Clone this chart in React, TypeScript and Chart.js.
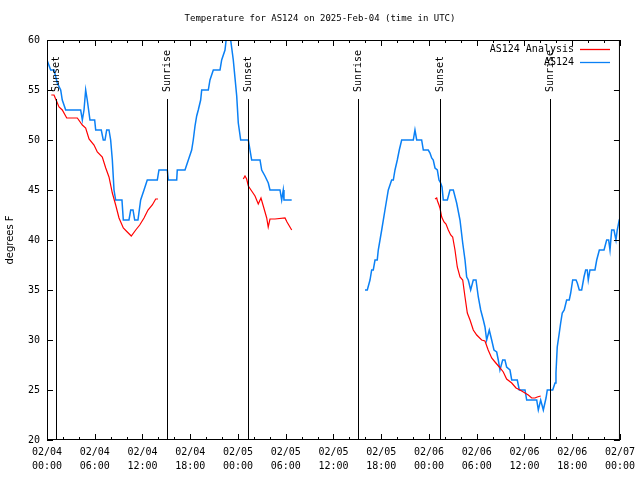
import React, { useEffect, useRef } from "react";
import { Chart, registerables } from "chart.js";

Chart.register(...registerables);

const TITLE = "Temperature for AS124 on 2025-Feb-04 (time in UTC)";
const Y_LABEL = "degrees F";
const X_TICK_LABELS = [
  ["02/04", "00:00"], ["02/04", "06:00"], ["02/04", "12:00"], ["02/04", "18:00"],
  ["02/05", "00:00"], ["02/05", "06:00"], ["02/05", "12:00"], ["02/05", "18:00"],
  ["02/06", "00:00"], ["02/06", "06:00"], ["02/06", "12:00"], ["02/06", "18:00"],
  ["02/07", "00:00"],
];

// hours since 02/04 00:00 UTC
const SUN_HOURS = [1.13, 15.08, 25.26, 39.08, 49.38, 63.2];
const SUN_LABELS = ["Sunset", "Sunrise", "Sunset", "Sunrise", "Sunset", "Sunrise"];

const OBS_LABEL = "AS124";
const OBS_HOURS = [
  0, 0.46, 0.88, 1.29, 1.72, 1.92, 2.35, 4.23, 4.44, 4.65, 4.86, 5.06, 5.4, 5.99, 6.12, 6.82,
  7.07, 7.29, 7.5, 7.79, 8.0, 8.21, 8.42, 8.63, 9.42, 9.59, 10.3, 10.52, 10.81, 11.02, 11.43,
  11.77, 12.19, 12.6, 13.86, 14.07, 15.12, 15.24, 16.3, 16.37, 17.34, 17.76, 18.18, 18.38,
  18.6, 18.81, 19.01, 19.31, 19.44, 20.27, 20.48, 20.9, 21.74, 21.95, 22.37, 22.58, 23.0,
  23.41, 23.84, 24.04, 24.34, 25.3, 25.72, 26.77, 26.98, 27.39, 27.81, 28.02, 29.28, 29.49,
  29.69, 29.78, 30.75,
  35,
  39.96, 40.25, 40.59, 40.8, 41.0, 41.22, 41.5, 41.63, 42.06, 42.47, 42.89, 43.31, 43.52,
  43.73, 44.02, 44.27, 44.57, 46.03, 46.24, 46.46, 47.08, 47.29, 47.91, 48.13, 48.34, 48.54,
  48.76, 49.05, 49.26, 49.47, 49.64, 49.8, 50.31, 50.64, 51.06, 51.48, 51.9, 52.24, 52.53,
  52.74, 52.94, 53.24, 53.57, 53.91, 54.2, 54.5, 54.83, 55.04, 55.25, 55.58, 55.88, 56.17,
  56.51, 56.71, 56.92, 57.26, 57.55, 57.76, 58.18, 58.4, 59.1, 59.35, 60.07, 60.28, 61.54,
  61.74, 62.04, 62.37, 62.71, 62.87, 63.55, 63.84, 63.96, 64.12, 64.34, 64.55, 64.75, 65.0,
  65.3, 65.63, 65.81, 66.06, 66.48, 66.64, 66.89, 67.19, 67.48, 67.69, 67.89, 68.02, 68.23,
  68.86, 69.08, 69.41, 70.0, 70.33, 70.58, 70.75, 70.96, 71.25, 71.5, 71.66, 71.91, 72.0,
];
const OBS_TEMPS = [
  58, 57, 57, 55.7, 55, 54, 53, 53, 52, 53, 55, 54, 52, 52, 51, 51,
  50, 50, 51, 51, 50, 48, 45, 44, 44, 42, 42, 43, 43, 42, 42,
  44, 45, 46, 46, 47, 47, 46, 46, 47, 47, 48, 49, 50,
  51.4, 52.4, 53, 54, 55, 55, 56, 57, 57, 58, 59, 60.5, 60.5,
  58, 54.4, 51.7, 50, 50, 48, 48, 47, 46.4, 45.7, 45, 45, 44,
  45, 44, 44,
  null,
  35, 35, 36, 37, 37, 38, 38, 39, 41, 43, 45, 46, 46,
  47, 48, 49, 50, 50, 51, 50, 50, 49, 49, 48.7, 48.2, 48,
  47.2, 47, 46, 45.7, 45.3, 44, 44, 45, 45, 43.7, 42, 39.7, 38,
  36.3, 36, 35, 36, 36, 34.3, 33, 32, 31.3, 30, 31, 30, 29,
  28.8, 28, 27, 28, 28, 27.3, 27, 26, 26, 25, 25, 24, 24,
  23, 24, 23, 24.2, 25, 25, 25.7, 26.7, 29.3, 30.5, 31.7, 32.7, 33,
  34, 34, 34.7, 36, 36, 35.7, 35, 35, 36.3, 37, 37, 36, 37,
  37, 38, 39, 39, 40, 40, 39, 41, 41, 40, 41, 42, 42.2,
];

const ANA_LABEL = "AS124 Analysis";
const ANA_HOURS = [
  0.54, 0.88, 1.09, 1.51, 1.92, 2.48, 3.81, 4.44, 4.86, 5.28, 5.91, 6.32, 6.95, 7.38, 7.79,
  8.21, 8.63, 9.05, 9.59, 10.09, 10.59, 11.15, 11.65, 12.19, 12.69, 13.23, 13.66, 13.95,
  19,
  24.67, 24.88, 25.09, 25.3, 25.72, 26.14, 26.55, 26.89, 27.18, 27.61, 27.8, 28.02, 28.65,
  29.91, 30.16, 30.75,
  40,
  48.76, 48.97, 49.07, 49.26, 49.38, 49.6, 49.89, 50.14, 50.43, 50.73, 50.98, 51.27, 51.56,
  51.9, 52.24, 52.53, 52.82, 53.16, 53.57, 54.0, 54.62, 55.04, 55.44, 55.88, 56.3, 56.84,
  57.34, 57.76, 58.4, 58.94, 59.44, 60.07, 60.48, 60.91, 61.32, 61.61, 62.04,
];
const ANA_TEMPS = [
  54.5, 54.5, 54.1, 53.3, 53, 52.2, 52.2, 51.5, 51.2, 50.1, 49.5, 48.8, 48.3, 47.2, 46.3,
  44.7, 43.5, 42.2, 41.2, 40.8, 40.4, 41, 41.5, 42.2, 43, 43.5, 44.1, 44.1,
  null,
  46.1, 46.4, 46.1, 45.4, 44.9, 44.4, 43.6, 44.2, 43.4, 42.2, 41.3, 42.1, 42.1,
  42.2, 41.8, 41.0,
  null,
  44.1, 44.2, 43.9, 43.5, 43.2, 42.3, 41.8, 41.6, 41, 40.5, 40.3, 39, 37.3,
  36.3, 36, 34.3, 32.7, 32, 31, 30.5, 30, 29.9, 29, 28.2, 27.8, 27.3,
  26.8, 26.1, 25.7, 25.2, 25, 24.7, 24.5, 24.2, 24.2, 24.3, 24.4,
];

const OBS_COLOR = "#0a80f5";
const ANA_COLOR = "#ff0000";
const MONO = "'DejaVu Sans Mono', monospace";

const overlayPlugin = {
  id: "gnuplotOverlay",
  afterDatasetsDraw(chart: any) {
    const { ctx, chartArea } = chart;
    const { left, right, top, bottom } = chartArea;
    const xs = chart.scales.x;
    const ys = chart.scales.y;
    ctx.save();
    ctx.strokeStyle = "#000";
    ctx.lineWidth = 1;

    // sunrise / sunset markers
    SUN_HOURS.forEach((h, i) => {
      const px = Math.round(xs.getPixelForValue(h)) + 0.5;
      ctx.beginPath();
      ctx.moveTo(px, 99);
      ctx.lineTo(px, bottom);
      ctx.stroke();
      ctx.save();
      ctx.translate(px, 92);
      ctx.rotate(-Math.PI / 2);
      ctx.fillStyle = "#000";
      ctx.font = `10px ${MONO}`;
      ctx.textAlign = "left";
      ctx.textBaseline = "middle";
      ctx.fillText(SUN_LABELS[i], 0, 0);
      ctx.restore();
    });

    // inward ticks, mirrored
    ctx.beginPath();
    for (let h = 0; h <= 72; h += 2) {
      const px = Math.round(xs.getPixelForValue(h)) + 0.5;
      const len = h % 6 === 0 ? 6 : 3;
      ctx.moveTo(px, bottom);
      ctx.lineTo(px, bottom - len);
      ctx.moveTo(px, top);
      ctx.lineTo(px, top + len);
    }
    for (let v = 20; v <= 60; v += 5) {
      const py = Math.round(ys.getPixelForValue(v)) + 0.5;
      ctx.moveTo(left, py);
      ctx.lineTo(left + 6, py);
      ctx.moveTo(right, py);
      ctx.lineTo(right - 6, py);
    }
    ctx.stroke();

    // border
    ctx.strokeRect(left + 0.5, top + 0.5, right - left - 1, bottom - top - 1);

    // legend
    const items = [
      { label: ANA_LABEL, color: ANA_COLOR, y: 49.5 },
      { label: OBS_LABEL, color: OBS_COLOR, y: 62.5 },
    ];
    ctx.font = `10px ${MONO}`;
    ctx.textAlign = "right";
    ctx.textBaseline = "middle";
    items.forEach((it) => {
      ctx.fillStyle = "#000";
      ctx.fillText(it.label, 574, it.y);
      ctx.strokeStyle = it.color;
      ctx.lineWidth = 1.3;
      ctx.beginPath();
      ctx.moveTo(580, it.y);
      ctx.lineTo(610, it.y);
      ctx.stroke();
    });

    // title
    ctx.fillStyle = "#000";
    ctx.font = `9px ${MONO}`;
    ctx.textAlign = "center";
    ctx.textBaseline = "middle";
    ctx.fillText(TITLE, 320, 19);
    ctx.restore();
  },
};

export default function App() {
  const ref = useRef<HTMLCanvasElement | null>(null);

  useEffect(() => {
    if (!ref.current) return;
    const obs = OBS_HOURS.map((h, i) => ({ x: h, y: OBS_TEMPS[i] }));
    const ana = ANA_HOURS.map((h, i) => ({ x: h, y: ANA_TEMPS[i] }));
    const chart = new Chart(ref.current, {
      type: "line",
      data: {
        datasets: [
          {
            label: ANA_LABEL,
            data: ana as any,
            borderColor: ANA_COLOR,
            borderWidth: 1.2,
            pointRadius: 0,
            spanGaps: false,
            tension: 0,
            clip: 0,
          } as any,
          {
            label: OBS_LABEL,
            data: obs as any,
            borderColor: OBS_COLOR,
            borderWidth: 1.5,
            pointRadius: 0,
            spanGaps: false,
            tension: 0,
            clip: 0,
          } as any,
        ],
      },
      options: {
        animation: false,
        responsive: false,
        maintainAspectRatio: false,
        layout: { padding: { left: 0, right: 20, top: 40, bottom: 0 } },
        plugins: {
          legend: { display: false },
          title: { display: false },
          tooltip: { enabled: false },
        },
        scales: {
          x: {
            type: "linear",
            min: 0,
            max: 72,
            grid: { display: false, drawTicks: false },
            border: { display: false },
            ticks: {
              stepSize: 6,
              autoSkip: false,
              maxRotation: 0,
              minRotation: 0,
              padding: 5,
              color: "#000",
              font: { family: MONO, size: 10, lineHeight: 1.4 },
              callback: (v: any) => X_TICK_LABELS[Math.round(Number(v) / 6)] as any,
            },
            afterFit: (s: any) => {
              s.height = 40;
            },
          },
          y: {
            type: "linear",
            min: 20,
            max: 60,
            grid: { display: false, drawTicks: false },
            border: { display: false },
            ticks: {
              stepSize: 5,
              padding: 7,
              color: "#000",
              font: { family: MONO, size: 10 },
            },
            title: {
              display: true,
              text: Y_LABEL,
              color: "#000",
              font: { family: "'DejaVu Sans', sans-serif", size: 10 },
              padding: { top: 4, bottom: 0 },
            },
            afterFit: (s: any) => {
              s.width = 47;
            },
          },
        },
      },
      plugins: [overlayPlugin],
    });
    return () => chart.destroy();
  }, []);

  return (
    <div style={{ position: "fixed", left: 0, top: 0, width: 640, height: 480, background: "#fff" }}>
      <canvas ref={ref} width={640} height={480} />
    </div>
  );
}
